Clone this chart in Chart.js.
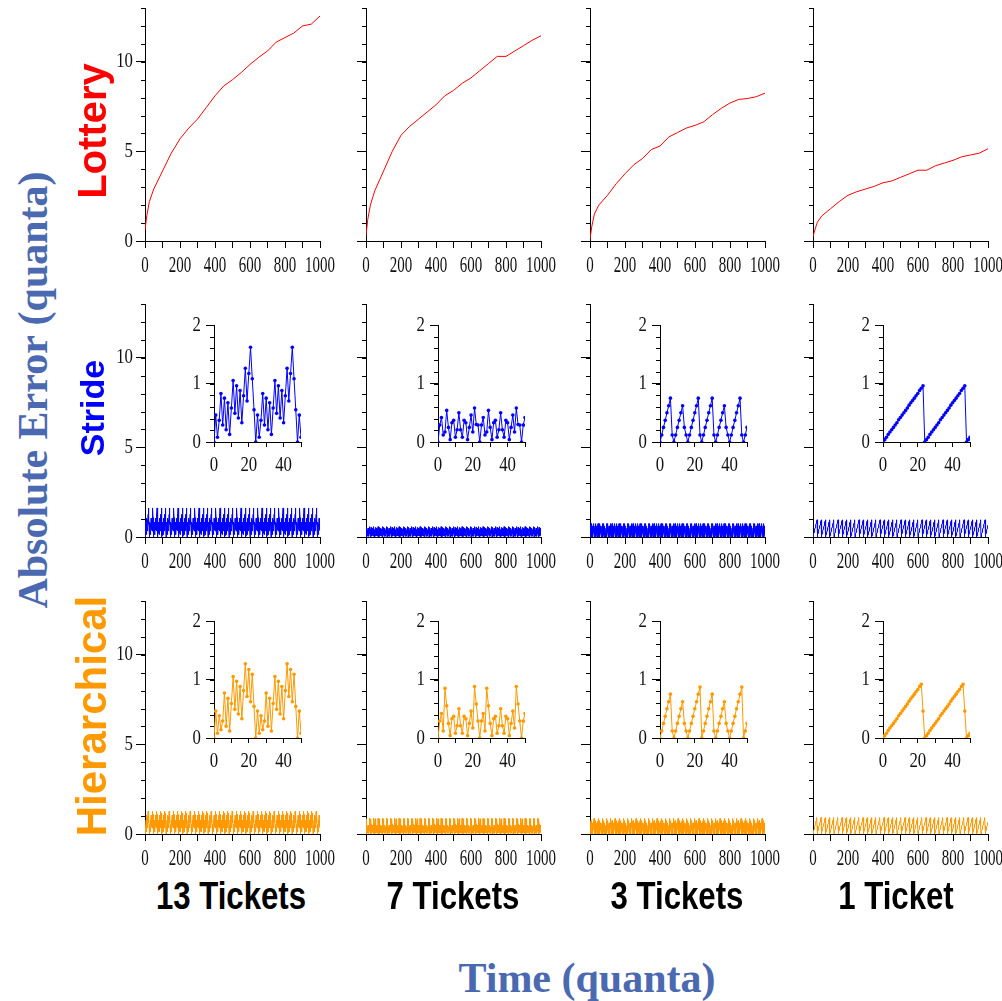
<!DOCTYPE html>
<html>
<head>
<meta charset="utf-8">
<script src="https://cdn.jsdelivr.net/npm/chart.js@4.4.1/dist/chart.umd.min.js"></script>
<style>
  body { margin: 0; background: #fff; }
  #fig { position: relative; width: 1002px; height: 1001px; overflow: hidden; background: #fff; }
  #fig canvas { position: absolute; }
  .lbl { position: absolute; white-space: nowrap; line-height: 1; }
</style>
</head>
<body>
<div id="fig"></div>
<script>
// Lottery row: absolute error sampled along the time axis (quanta)
const lotteryTimes = [0, 10, 25, 50, 100, 150, 200, 250, 300, 350, 400, 450, 500, 550, 600, 650, 700, 750, 800, 850, 900, 950, 1000];
const lottery13 = [0.6, 1.4, 2.2, 2.9, 3.9, 4.9, 5.7, 6.3, 6.8, 7.45, 8.1, 8.65, 9.0, 9.4, 9.85, 10.25, 10.6, 11.1, 11.35, 11.6, 12.0, 12.1, 12.55];
const lottery7 = [0.3, 1.2, 2.0, 2.8, 3.9, 5.0, 5.9, 6.4, 6.8, 7.2, 7.6, 8.1, 8.4, 8.8, 9.1, 9.5, 9.9, 10.3, 10.3, 10.6, 10.9, 11.2, 11.45];
const lottery3 = [0.1, 0.8, 1.5, 2.0, 2.55, 3.2, 3.75, 4.25, 4.6, 5.1, 5.3, 5.8, 6.05, 6.3, 6.45, 6.65, 7.05, 7.4, 7.7, 7.9, 7.95, 8.05, 8.25];
const lottery1 = [0.25, 0.6, 1.05, 1.4, 1.8, 2.2, 2.55, 2.75, 2.9, 3.05, 3.25, 3.35, 3.55, 3.75, 3.95, 3.95, 4.2, 4.35, 4.5, 4.7, 4.8, 4.9, 5.15];

// Stride / hierarchical rows: one 24-quantum cycle (t = 0..23)
const stride13 = [0, 0.46, 0.08, 0.37, 0.83, 0.29, 0.75, 0.21, 0.67, 0.13, 0.58, 1.05, 0.49, 0.96, 0.41, 0.88, 0.33, 0.79, 1.26, 0.70, 1.17, 1.62, 1.08, 0.55];
const stride7 = [0, 0.29, 0.42, 0.12, 0.17, 0.54, 0.25, 0.04, 0.33, 0.37, 0.08, 0.21, 0.5, 0.21, 0.08, 0.37, 0.33, 0.04, 0.25, 0.46, 0.17, 0.58, 0.3, 0.29];
const stride3 = [0, 0.12, 0.25, 0.37, 0.5, 0.62, 0.75, 0.12, 0, 0.12, 0.25, 0.37, 0.5, 0.62, 0.25, 0.12, 0, 0.12, 0.25, 0.37, 0.5, 0.62, 0.75, 0.12];
const stride1 = [0, 0.04, 0.08, 0.13, 0.17, 0.21, 0.25, 0.29, 0.33, 0.38, 0.42, 0.46, 0.5, 0.54, 0.58, 0.63, 0.67, 0.71, 0.75, 0.79, 0.83, 0.88, 0.92, 0.96];
const hier13 = [0, 0.46, 0.08, 0.38, 0.14, 0.29, 0.77, 0.20, 0.68, 0.12, 0.59, 1.05, 0.49, 0.97, 0.41, 0.88, 0.33, 0.81, 1.27, 0.71, 1.17, 0.62, 1.09, 0.54];
const hier7 = [0, 0.29, 0.42, 0.12, 0.85, 0.55, 0.25, 0.04, 0.33, 0.37, 0.08, 0.21, 0.5, 0.21, 0.08, 0.37, 0.33, 0.04, 0.25, 0.46, 0.17, 0.88, 0.58, 0.29];
const hier3 = [0, 0.12, 0.25, 0.37, 0.5, 0.62, 0.75, 0.12, 0, 0.12, 0.25, 0.37, 0.5, 0.62, 0.25, 0.12, 0, 0.12, 0.25, 0.37, 0.5, 0.62, 0.75, 0.87];
const hier1 = [0, 0.04, 0.08, 0.13, 0.17, 0.21, 0.25, 0.29, 0.33, 0.38, 0.42, 0.46, 0.5, 0.54, 0.58, 0.63, 0.67, 0.71, 0.75, 0.79, 0.83, 0.88, 0.92, 0.46];

const columnLabels = ['13 Tickets', '7 Tickets', '3 Tickets', '1 Ticket'];
const rowLabels = ['Lottery', 'Stride', 'Hierarchical'];
const rowColors = ['#ff0000', '#0000ff', '#ff9900'];

// tick values
const mainXTicks = [0, 100, 200, 300, 400, 500, 600, 700, 800, 900, 1000];
const mainXLabels = [0, 200, 400, 600, 800, 1000];
const mainYLabels = [0, 5, 10];
const insetXTicks = [0, 10, 20, 30, 40, 50];
const insetXLabels = [0, 20, 40];
const insetYLabels = [0, 1, 2];

// layout (px in the 1002x1001 page)
const colAxisX = [145, 366, 590, 813];
const rowTopY = [8, 304, 601];
const PLOT_W = 175, PLOT_H = 233;
const insetAxisX = [214, 438, 660, 883];
const insetBottomY = [null, 442, 738];
const INSET_W = 87, INSET_H = 117;

const fig = document.getElementById('fig');
const SERIF = '"Liberation Serif", "Times New Roman", serif';

// short unlabeled ticks between the major ones
const minorTicks = {
  id: 'minorTicks',
  afterDraw(chart, args, opts) {
    const ctx = chart.ctx;
    ctx.save();
    ctx.strokeStyle = '#000';
    ctx.lineWidth = 1;
    for (const [id, step, len] of opts.list || []) {
      const s = chart.scales[id];
      const n = Math.round((s.max - s.min) / step);
      for (let i = 0; i <= n; i++) {
        const p = Math.round(s.getPixelForValue(s.min + i * step)) + 0.5;
        ctx.beginPath();
        if (s.isHorizontal()) { ctx.moveTo(p, s.top); ctx.lineTo(p, s.top + len); }
        else { ctx.moveTo(s.right, p); ctx.lineTo(s.right - len, p); }
        ctx.stroke();
      }
    }
    ctx.restore();
  }
};

// tick labels in a narrow serif, like the original figure
const narrowLabels = {
  id: 'narrowLabels',
  afterDraw(chart, args, opts) {
    const ctx = chart.ctx;
    for (const a of opts.list || []) {
      const s = chart.scales[a.id];
      ctx.save();
      ctx.fillStyle = '#111';
      ctx.font = a.size + 'px ' + SERIF;
      ctx.textBaseline = 'middle';
      ctx.textAlign = s.isHorizontal() ? 'center' : 'right';
      for (const v of a.values) {
        const p = s.getPixelForValue(v);
        ctx.save();
        if (s.isHorizontal()) ctx.translate(p, s.top + a.offset);
        else ctx.translate(s.right - a.offset, p);
        ctx.scale(a.squeeze, 1);
        ctx.fillText(String(v), 0, 0);
        ctx.restore();
      }
      ctx.restore();
    }
  }
};

function repeatCycle(cycle, last) {
  const pts = [];
  for (let t = 0; t <= last; t++) pts.push({ x: t, y: cycle[t % cycle.length] });
  return pts;
}

function addCanvas(left, top, w, h) {
  const cv = document.createElement('canvas');
  cv.width = w; cv.height = h;
  cv.style.left = left + 'px'; cv.style.top = top + 'px';
  cv.style.width = w + 'px'; cv.style.height = h + 'px';
  fig.appendChild(cv);
  return cv;
}

function axis(opts) {
  return {
    type: 'linear', min: opts.min, max: opts.max,
    afterBuildTicks: s => { s.ticks = opts.ticks.map(v => ({ value: v })); },
    afterFit: s => {
      if (opts.horizontal) { s.height = opts.size; s.paddingLeft = 0; s.paddingRight = 0; }
      else { s.width = opts.size; s.paddingTop = 0; s.paddingBottom = 0; }
    },
    border: { display: true, color: '#000', width: 1 },
    grid: { drawOnChartArea: false, drawTicks: true, tickLength: opts.tickLength, color: '#000' },
    ticks: { display: false }
  };
}

function mainPanel(col, row, points, color, showY) {
  const YW = 50, PADT = 6, PADR = 24, XH = 40;
  const cv = addCanvas(colAxisX[col] - YW, rowTopY[row] - PADT, YW + PLOT_W + PADR, PADT + PLOT_H + XH);
  const labels = [{ id: 'x', values: mainXLabels, size: 23, squeeze: 0.65, offset: 25 }];
  if (showY) labels.push({ id: 'y', values: mainYLabels, size: 21, squeeze: 0.8, offset: 12 });
  new Chart(cv, {
    type: 'line',
    data: { datasets: [{ data: points, borderColor: color, borderWidth: 1, pointRadius: 0, tension: 0 }] },
    options: {
      responsive: false, animation: false, devicePixelRatio: 1,
      layout: { padding: { top: PADT, right: PADR, left: 0, bottom: 0 } },
      plugins: {
        legend: { display: false }, tooltip: { enabled: false },
        minorTicks: { list: [['y', 1, 4]] },
        narrowLabels: { list: labels }
      },
      scales: {
        x: axis({ horizontal: true, min: 0, max: 1000, ticks: mainXTicks, size: XH, tickLength: 7 }),
        y: axis({ min: 0, max: 13, ticks: mainYLabels, size: YW, tickLength: 9 })
      }
    },
    plugins: [minorTicks, narrowLabels]
  });
}

function insetPanel(col, row, cycle, color) {
  const YW = 30, PADT = 10, PADR = 14, XH = 36;
  const cv = addCanvas(insetAxisX[col] - YW, insetBottomY[row] - INSET_H - PADT, YW + INSET_W + PADR, PADT + INSET_H + XH);
  new Chart(cv, {
    type: 'line',
    data: { datasets: [{
      data: repeatCycle(cycle, 50), borderColor: color, borderWidth: 1, tension: 0,
      pointRadius: 1.8, pointBorderWidth: 0, pointBackgroundColor: color
    }] },
    options: {
      responsive: false, animation: false, devicePixelRatio: 1,
      layout: { padding: { top: PADT, right: PADR, left: 0, bottom: 0 } },
      plugins: {
        legend: { display: false }, tooltip: { enabled: false },
        minorTicks: { list: [['y', 0.2, 4]] },
        narrowLabels: { list: [
          { id: 'x', values: insetXLabels, size: 21, squeeze: 0.8, offset: 23 },
          { id: 'y', values: insetYLabels, size: 21, squeeze: 0.8, offset: 13 }
        ] }
      },
      scales: {
        x: axis({ horizontal: true, min: 0, max: 50, ticks: insetXTicks, size: XH, tickLength: 5 }),
        y: axis({ min: 0, max: 2, ticks: insetYLabels, size: YW, tickLength: 8 })
      }
    },
    plugins: [minorTicks, narrowLabels]
  });
}

const lotterySeries = [lottery13, lottery7, lottery3, lottery1];
const strideCycles = [stride13, stride7, stride3, stride1];
const hierCycles = [hier13, hier7, hier3, hier1];

for (let c = 0; c < 4; c++) {
  mainPanel(c, 0, lotteryTimes.map((t, i) => ({ x: t, y: lotterySeries[c][i] })), rowColors[0], c === 0);
  mainPanel(c, 1, repeatCycle(strideCycles[c], 1000), rowColors[1], c === 0);
  mainPanel(c, 2, repeatCycle(hierCycles[c], 1000), rowColors[2], c === 0);
}
for (let c = 0; c < 4; c++) {
  insetPanel(c, 1, strideCycles[c], rowColors[1]);
  insetPanel(c, 2, hierCycles[c], rowColors[2]);
}

// text
function addText(text, cx, cy, style, transform) {
  const d = document.createElement('div');
  d.className = 'lbl';
  d.textContent = text;
  Object.assign(d.style, style);
  d.style.left = cx + 'px';
  d.style.top = cy + 'px';
  d.style.transform = 'translate(-50%, -50%)' + (transform || '');
  fig.appendChild(d);
}
const sansBold = { fontFamily: '"Liberation Sans", Arial, sans-serif', fontWeight: 'bold' };
const serifBold = { fontFamily: SERIF, fontWeight: 'bold', color: '#4a69b0' };

addText('Absolute Error (quanta)', 33, 390, Object.assign({ fontSize: '42px' }, serifBold), ' rotate(-90deg)');
addText('Time (quanta)', 587, 978, Object.assign({ fontSize: '42px' }, serifBold));
const rowLabelY = [131, 408, 716];
const rowLabelSize = [40, 34, 42];
rowLabels.forEach((t, i) => addText(t, 92, rowLabelY[i], Object.assign({ fontSize: rowLabelSize[i] + 'px', color: rowColors[i] }, sansBold), ' rotate(-90deg)'));
const colLabelX = [231, 453, 677, 896];
columnLabels.forEach((t, i) => addText(t, colLabelX[i], 896, Object.assign({ fontSize: '38px', color: '#000' }, sansBold), ' scaleX(0.82)'));
</script>
</body>
</html>
